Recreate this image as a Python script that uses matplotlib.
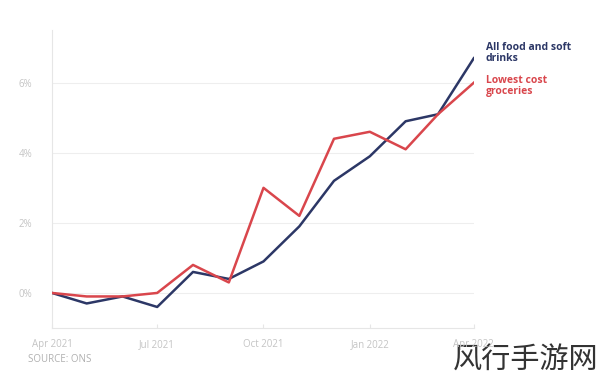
import matplotlib.pyplot as plt
import pandas as pd

plt.rcParams['font.family'] = ['Open Sans', 'Noto Sans CJK SC', 'DejaVu Sans']

# monthly change, Apr 2021 - Apr 2022
months = pd.date_range('2021-04-01', '2022-04-01', freq='MS')
all_food = [0.0, -0.3, -0.1, -0.4, 0.6, 0.4, 0.9, 1.9, 3.2, 3.9, 4.9, 5.1, 6.7]
lowest_cost = [0.0, -0.1, -0.1, 0.0, 0.8, 0.3, 3.0, 2.2, 4.4, 4.6, 4.1, 5.1, 6.0]

tick_months = ['2021-04-01', '2021-07-01', '2021-10-01', '2022-01-01', '2022-04-01']
tick_labels = ['Apr 2021', 'Jul 2021', 'Oct 2021', 'Jan 2022', 'Apr 2022']
y_ticks = [0, 2, 4, 6]

navy = '#2c3766'
red = '#d9464c'
grey = '#c4c4c4'

fig = plt.figure(figsize=(6, 3.77), dpi=100)
ax = fig.add_axes([0.0867, 0.130, 0.703, 0.79])
ax.patch.set_visible(False)

ax.plot(months, all_food, color=navy, lw=1.8, zorder=3)
ax.plot(months, lowest_cost, color=red, lw=1.8, zorder=3)

ax.set_ylim(-1.0, 7.5)
ax.set_xlim(months[0], months[-1])
ax.set_yticks(y_ticks)
ax.set_yticklabels([f'{v}%' for v in y_ticks])
ax.set_xticks(pd.to_datetime(tick_months))
ax.set_xticklabels(tick_labels)

ax.grid(axis='y', color='#eeeeee', lw=0.8)
for s in ['top', 'right']:
    ax.spines[s].set_visible(False)
ax.spines['left'].set_color('#e6e6e6')
ax.spines['bottom'].set_color('#e6e6e6')
ax.tick_params(axis='y', length=0, labelsize=7, labelcolor=grey, pad=14)
ax.tick_params(axis='x', direction='in', length=3, color='#e6e6e6',
               labelsize=7, labelcolor=grey, pad=8)

# end labels
ax.annotate('All food and soft\ndrinks', xy=(months[-1], all_food[-1]),
            xytext=(486, 324), textcoords='figure pixels',
            color=navy, fontsize=7.5, fontweight='bold', va='center',
            linespacing=1.0, annotation_clip=False)
ax.annotate('Lowest cost\ngroceries', xy=(months[-1], lowest_cost[-1]),
            xytext=(486, 291), textcoords='figure pixels',
            color=red, fontsize=7.5, fontweight='bold', va='center',
            linespacing=1.0, annotation_clip=False)

fig.text(28 / 600, 1 - 360 / 377, 'SOURCE: ONS', fontsize=7, color='#b0b0b0', va='center')
# watermark, drawn under the axes so the tick label stays readable
fig.text(0.997, 1 - 361 / 377, '风行手游网', fontsize=21, color='#333333',
         ha='right', va='center', fontweight='light', zorder=-1)

fig.savefig('out.png', dpi=100)
